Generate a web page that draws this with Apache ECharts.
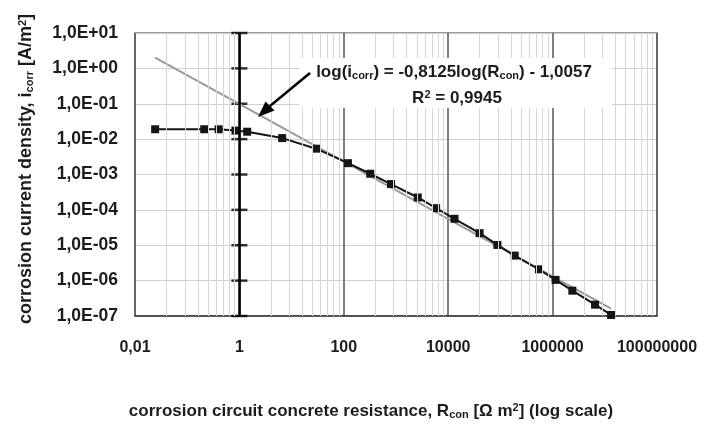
<!DOCTYPE html>
<html>
<head>
<meta charset="utf-8">
<script src="https://cdn.jsdelivr.net/npm/echarts@6/dist/echarts.min.js"></script>
<style>
  html, body { margin: 0; padding: 0; background: #fff; }
  #chart { width: 704px; height: 427px; }
</style>
</head>
<body>
<div id="chart"></div>
<script>
// Measured corrosion current density vs. concrete resistance
const resistance = [0.0243, 0.212, 0.40, 0.84, 1.41, 6.6, 29.6, 120, 321, 802, 2612, 5875,
  13213, 40000, 87500, 188000, 546000, 1140000, 2390000, 6500000, 13200000];
const currentDensity = [0.019, 0.019, 0.019, 0.0174, 0.0162, 0.0107, 0.00537, 0.00209, 0.00105,
  5.37e-4, 2.24e-4, 1.12e-4, 5.6e-5, 2.19e-5, 1.02e-5, 5.1e-6, 2.09e-6, 1.05e-6, 5.2e-7, 2.09e-7, 1.07e-7];

// Regression line: log(i) = slope * log(R) + intercept, drawn over the measured range
const fitSlope = -0.8125;
const fitIntercept = -1.0057;
const fitRange = [0.0243, 13200000];

// Axis limits; the vertical axis crosses the horizontal one at R = 1
const xLimits = [0.01, 1e8];
const yLimits = [1e-7, 10];
const crossAt = 1;

const measured = resistance.map((r, i) => [r, currentDensity[i]]);
const fitLine = fitRange.map(r => [r, Math.pow(10, fitSlope * Math.log10(r) + fitIntercept)]);

// Minor vertical grid: k^2 steps inside each two-decade major interval
const minorX = [];
for (let n = -1; n <= 3; n++) {
  for (let k = 2; k <= 9; k++) minorX.push({ xAxis: Math.pow(100, n) * k * k });
}
// Decade tick marks on the crossing axis
const crossTicks = [];
for (let e = Math.round(Math.log10(yLimits[0])); e <= Math.round(Math.log10(yLimits[1])); e++) {
  crossTicks.push([crossAt, Math.pow(10, e)]);
}

const fontFamily = '"Liberation Sans", Arial, sans-serif';
const textColor = '#1c1c1c';

function yLabel(v) {
  const e = Math.round(Math.log10(v));
  const a = Math.abs(e);
  return '1,0E' + (e >= 0 ? '+' : '-') + (a < 10 ? '0' : '') + a;
}
function xLabel(v) {
  const e = Math.round(Math.log10(v));
  if (e < 0) return '0,' + '0'.repeat(-e - 1) + '1';
  return '1' + '0'.repeat(e);
}

const subSup = {
  sub: { fontSize: 11, fontWeight: 'bold', color: textColor, fontFamily: fontFamily, verticalAlign: 'bottom', padding: [7, 0, 0, 0] },
  sup: { fontSize: 11, fontWeight: 'bold', color: textColor, fontFamily: fontFamily, verticalAlign: 'top', padding: [0, 0, 7, 0] }
};

const chart = echarts.init(document.getElementById('chart'), null, { renderer: 'canvas' });

chart.setOption({
  animation: false,
  backgroundColor: '#fff',
  grid: { left: 135, top: 33, width: 522, height: 283, show: true, borderColor: '#7a7a7a', borderWidth: 1.5, backgroundColor: 'transparent' },
  xAxis: {
    type: 'log', logBase: 100, min: xLimits[0], max: xLimits[1], splitNumber: 5,
    axisLine: { show: true, lineStyle: { color: '#333', width: 1.5 } },
    axisTick: { show: false },
    axisLabel: { formatter: xLabel, margin: 24, fontSize: 16, fontWeight: 'bold', color: textColor, fontFamily: fontFamily },
    splitLine: { show: true, lineStyle: { color: '#555', width: 1.5 } },
    name: 'corrosion circuit concrete resistance, R{sub|con} [Ω m{sup|2}] (log scale)',
    nameLocation: 'middle', nameGap: 86,
    nameTextStyle: {
      fontSize: 17, fontWeight: 'bold', color: textColor, fontFamily: fontFamily, padding: [0, 50, 0, 0],
      rich: subSup
    }
  },
  yAxis: {
    type: 'log', logBase: 10, min: yLimits[0], max: yLimits[1], splitNumber: 8,
    axisLine: { show: false }, axisTick: { show: false },
    axisLabel: { formatter: yLabel, margin: 17, fontSize: 17.5, fontWeight: 'bold', color: textColor, fontFamily: fontFamily },
    splitLine: { show: true, lineStyle: { color: '#d0d0d0', width: 1 } },
    name: 'corrosion current density, i{sub|corr} [A/m{sup|2}]',
    nameLocation: 'middle', nameGap: 100, nameRotate: 90,
    nameTextStyle: {
      fontSize: 18, fontWeight: 'bold', color: textColor, fontFamily: fontFamily, padding: [0, 0, 0, 11],
      rich: subSup
    }
  },
  series: [
    {
      name: 'grid',
      type: 'line', data: [], silent: true, z: 0,
      markLine: {
        silent: true, symbol: 'none', animation: false,
        label: { show: false },
        lineStyle: { color: '#d6d6d6', width: 1, type: 'solid' },
        data: minorX
      }
    },
    {
      name: 'crossing axis',
      type: 'scatter', data: crossTicks, silent: true, z: 2,
      symbol: 'rect', symbolSize: [16, 2.5],
      itemStyle: { color: '#000' },
      markLine: {
        silent: true, symbol: 'none', animation: false,
        label: { show: false },
        lineStyle: { color: '#000', width: 2.5, type: 'solid' },
        data: [{ xAxis: crossAt }]
      }
    },
    {
      name: 'fit',
      type: 'line', data: fitLine, showSymbol: false, symbol: 'none', z: 3,
      lineStyle: { color: '#9a9a9a', width: 2 }
    },
    {
      name: 'measured',
      type: 'line', data: measured, symbol: 'rect', symbolSize: 8, z: 4,
      itemStyle: { color: '#151515' },
      lineStyle: { color: '#151515', width: 2 }
    }
  ],
  graphic: [
    { type: 'rect', shape: { x: 299, y: 58, width: 313, height: 50 }, style: { fill: '#fff' }, z: 10 },
    {
      type: 'text', x: 454, y: 72, z: 11,
      style: {
        text: 'log(i{sub|corr}) = -0,8125log(R{sub|con}) - 1,0057',
        align: 'center', verticalAlign: 'middle',
        font: 'bold 17px ' + fontFamily, fill: textColor,
        rich: {
          sub: { fontSize: 11, fontWeight: 'bold', fill: textColor, fontFamily: fontFamily, verticalAlign: 'bottom', padding: [7, 0, 0, 0] }
        }
      }
    },
    {
      type: 'text', x: 457, y: 98, z: 11,
      style: {
        text: 'R{sup|2} = 0,9945',
        align: 'center', verticalAlign: 'middle',
        font: 'bold 17px ' + fontFamily, fill: textColor,
        rich: {
          sup: { fontSize: 11, fontWeight: 'bold', fill: textColor, fontFamily: fontFamily, verticalAlign: 'top', padding: [0, 0, 7, 0] }
        }
      }
    },
    { type: 'line', z: 12, shape: { x1: 310, y1: 73, x2: 270, y2: 106 }, style: { stroke: '#000', lineWidth: 2.5 } },
    { type: 'polygon', z: 12, shape: { points: [[258, 117], [274.5, 110.5], [265.5, 101.5]] }, style: { fill: '#000' } }
  ]
});
</script>
</body>
</html>
